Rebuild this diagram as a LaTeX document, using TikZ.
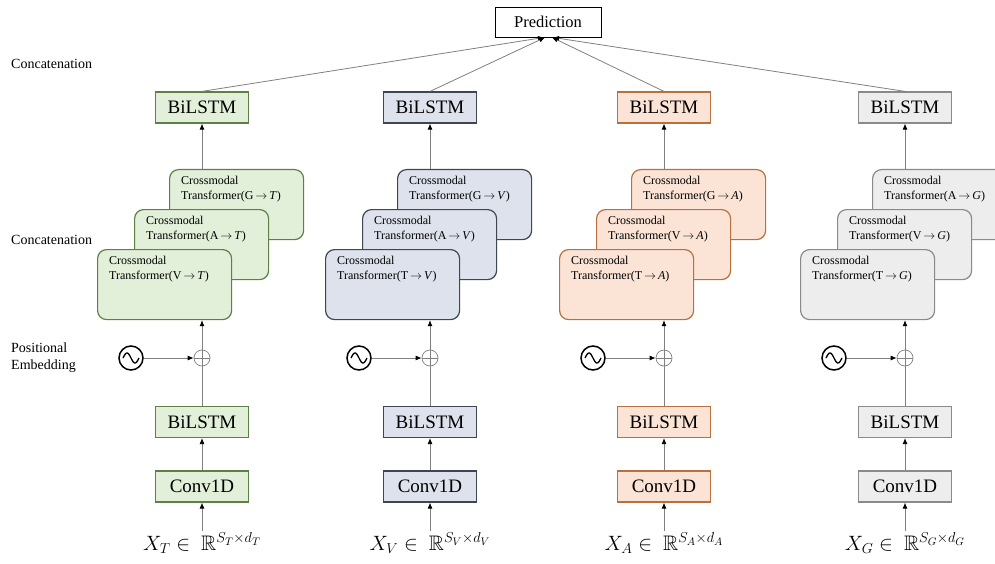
\documentclass[tikz,border=0pt]{standalone}
\usepackage{fontspec}
\usepackage{amssymb}
\setmainfont{Liberation Serif}
\usetikzlibrary{arrows.meta}
\definecolor{gfill}{HTML}{E2EFD9}\definecolor{gdraw}{HTML}{5E7F48}
\definecolor{bfill}{HTML}{DEE2EC}\definecolor{bdraw}{HTML}{404552}
\definecolor{ofill}{HTML}{FBE4D5}\definecolor{odraw}{HTML}{B8703E}
\definecolor{kfill}{HTML}{EDEDED}\definecolor{kdraw}{HTML}{8A8A8A}
\definecolor{lin}{HTML}{808080}
\newcommand{\mto}{\,$\rightarrow$\,}
\begin{document}
\begin{tikzpicture}[x=1pt,y=-1pt,
  blk/.style={draw=#1draw, fill=#1fill, line width=1.2pt, minimum width=93pt, minimum height=31pt, inner sep=0pt, font=\fontsize{19}{22}\selectfont},
  cmt/.style={draw=#1draw, fill=#1fill, line width=1.2pt, rounded corners=9pt, minimum width=134pt, minimum height=70pt, inner sep=0pt, anchor=north west},
  cmtext/.style={anchor=north west, align=left, inner sep=0pt, font=\fontsize{12}{14.5}\selectfont},
  side/.style={anchor=west, align=left, inner sep=0pt, font=\fontsize{14}{17}\selectfont},
  arr/.style={draw=lin, line width=0.8pt, -{Latex[length=6pt,width=5pt,color=black]}},
  ln/.style={draw=lin, line width=0.8pt},
  plusnode/.style={circle, draw=lin, line width=0.7pt, minimum size=16pt, inner sep=0pt},
  sinenode/.style={circle, draw=black, line width=1.5pt, minimum size=24pt, inner sep=0pt},
  inlab/.style={inner sep=1pt, font=\fontsize{21}{24}\selectfont}
]
\useasboundingbox (0,0) rectangle (995,564);

\node[draw=black, line width=0.9pt, minimum width=106pt, minimum height=30pt, inner sep=0pt, font=\fontsize{16.5}{19}\selectfont] (pred) at (548,22) {Prediction};

\node[side] (lab1) at (11,64) {Concatenation};
\node[side] (lab2) at (11,240) {Concatenation};
\node[side] (lab3) at (11,358) {Positional\\Embedding};

\foreach \c/\cx/\L/\a/\b/\d in {g/202/T/V/A/G, b/430/V/T/A/G, o/664/A/T/V/G, k/905/G/T/V/A}{
  \node[blk=\c] (top\L) at (\cx,107.5) {BiLSTM};
  \node[cmt=\c] (cb\L) at (\cx-33,169) {};
  \node[cmtext] (tb\L) at (\cx-21,176) {Crossmodal\\Transformer(\d\mto\textit{\L})};
  \node[cmt=\c] (cm\L) at (\cx-68,209) {};
  \node[cmtext] (tm\L) at (\cx-56,216) {Crossmodal\\Transformer(\b\mto\textit{\L})};
  \node[cmt=\c] (cf\L) at (\cx-105,249) {};
  \node[cmtext] (tf\L) at (\cx-93,256) {Crossmodal\\Transformer(\a\mto\textit{\L})};
  \node[plusnode] (plus\L) at (\cx,358) {};
  \draw[lin, line width=0.7pt] (plus\L.north) -- (plus\L.south) (plus\L.west) -- (plus\L.east);
  \node[sinenode] (sine\L) at (\cx-71,358) {};
  \draw[line width=1.3pt, domain=-8:8, samples=40, smooth] plot ({\cx-71+\x},{358+5*sin(\x*22.5)});
  \node[blk=\c] (low\L) at (\cx,422) {BiLSTM};
  \node[blk=\c] (conv\L) at (\cx,486.5) {Conv1D};
  \node[inlab] (in\L) at (\cx,543) {$X_\L \in\ \mathbb{R}^{S_\L\times d_\L}$};
  \draw[arr] (in\L.north) -- (conv\L.south);
  \draw[arr] (conv\L.north) -- (low\L.south);
  \draw[ln] (low\L.north) -- (plus\L.south);
  \draw[arr] (sine\L.east) -- (plus\L.west);
  \draw[arr] (plus\L.north) -- (plus\L |- cf\L.south);
  \draw[arr] (top\L |- cb\L.north) -- (top\L.south);
}
\draw[arr] (topT.north) -- ([xshift=-4pt]pred.south);
\draw[arr] (topV.north) -- ([xshift=-3pt]pred.south);
\draw[arr] (topA.north) -- ([xshift=4pt]pred.south);
\draw[arr] (topG.north) -- ([xshift=5pt]pred.south);
\end{tikzpicture}
\end{document}
